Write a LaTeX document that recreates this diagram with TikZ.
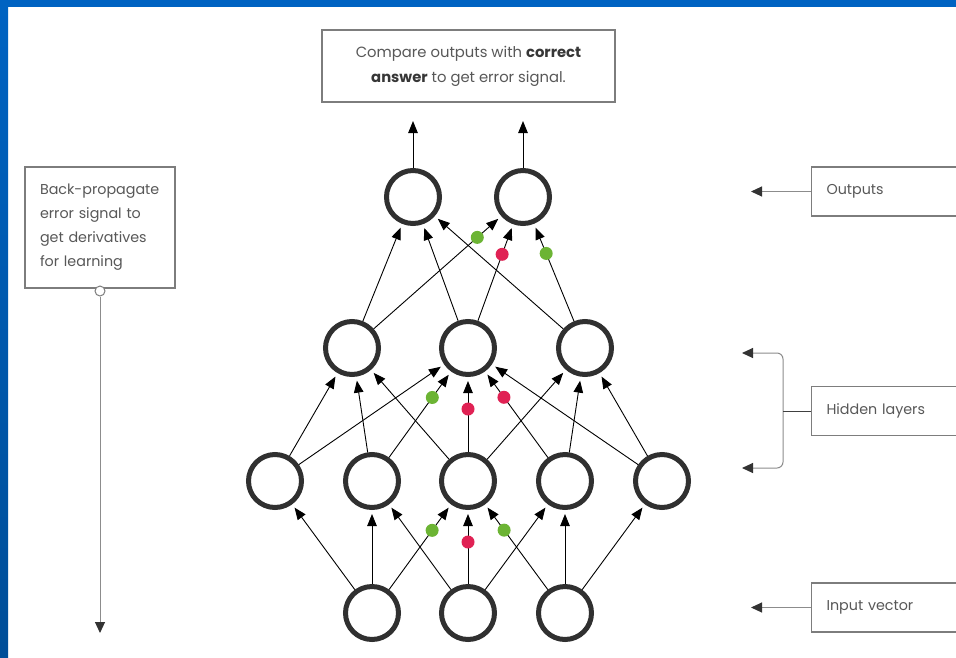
\documentclass[tikz,border=0pt]{standalone}
\usepackage{fontspec}
\setmainfont{Poppins}
\usetikzlibrary{arrows.meta,calc}

\definecolor{frameblue}{RGB}{0,99,194}
\definecolor{framedark}{RGB}{0,78,152}
\definecolor{dotgreen}{RGB}{108,180,52}
\definecolor{dotred}{RGB}{224,34,84}
\definecolor{ringgray}{RGB}{48,48,48}
\definecolor{textgray}{RGB}{88,88,88}
\definecolor{boldgray}{RGB}{55,55,55}
\definecolor{boxgray}{RGB}{125,125,125}
\definecolor{leadgray}{RGB}{140,140,140}

\begin{document}
\begin{tikzpicture}[x=1pt,y=-1pt,
  neuron/.style={circle, draw=ringgray, line width=5pt, minimum size=53pt,
                 inner sep=0pt, fill=white},
  link/.style={draw=black, line width=0.9pt,
               -{Triangle[length=12pt,width=9.5pt]}, shorten >=4pt},
  gdot/.style={fill=dotgreen},
  rdot/.style={fill=dotred},
  labelbox/.style={draw=boxgray, line width=1.1pt, fill=white,
                   text=textgray, inner sep=0pt},
  sidelabel/.style={labelbox, anchor=west, minimum width=170pt,
                    minimum height=49pt, text width=140pt, align=left,
                    font=\fontsize{14.3}{24}\selectfont},
  pointer/.style={draw=leadgray, line width=1pt,
                  -{Triangle[length=11pt,width=10pt,color=black!80]}},
]
\clip (0,0) rectangle (956,657);
\fill[white] (0,0) rectangle (956,657);

% window frame
\fill[frameblue] (0,0) rectangle (956,7);
\shade[top color=frameblue, bottom color=framedark] (0,0) rectangle (8,657);

% neurons
\node[neuron] (O1) at (413,197) {};
\node[neuron] (O2) at (523,197) {};
\node[neuron] (J1) at (352,348) {};
\node[neuron] (J2) at (468,348) {};
\node[neuron] (J3) at (585,348) {};
\node[neuron] (H1) at (275,481) {};
\node[neuron] (H2) at (372,481) {};
\node[neuron] (H3) at (468,481) {};
\node[neuron] (H4) at (565,481) {};
\node[neuron] (H5) at (662,481) {};
\node[neuron] (I1) at (372,613) {};
\node[neuron] (I2) at (468,613) {};
\node[neuron] (I3) at (565,613) {};

% input -> first hidden layer
\foreach \s/\t in {I1/H1,I1/H2,I1/H3,I2/H2,I2/H3,I2/H4,I3/H3,I3/H4,I3/H5}
  \draw[link] (\s) -- (\t);
% first hidden -> second hidden layer
\foreach \s/\t in {H1/J1,H1/J2,H2/J1,H2/J2,H3/J1,H3/J2,H3/J3,H4/J2,H4/J3,H5/J2,H5/J3}
  \draw[link] (\s) -- (\t);
% second hidden -> outputs
\foreach \s/\t in {J1/O1,J1/O2,J2/O1,J2/O2,J3/O1,J3/O2}
  \draw[link] (\s) -- (\t);

% error markers on weights
\foreach \s/\t/\c in {I1/H3/gdot,I2/H3/rdot,I3/H3/gdot,
                      H2/J2/gdot,H3/J2/rdot,H4/J2/rdot,
                      J1/O2/gdot,J2/O2/rdot,J3/O2/gdot}
  \fill[\c] ($(\t)!61pt!(\s)$) circle (6.5pt);

% output arrows to comparison box
\coordinate (up1) at (413,121);
\coordinate (up2) at (523,121);
\draw[draw=black, line width=1pt, -{Triangle[length=12pt,width=9.5pt]}] (O1) -- (up1);
\draw[draw=black, line width=1pt, -{Triangle[length=12pt,width=9.5pt]}] (O2) -- (up2);

% comparison box
\node[labelbox, minimum width=293pt, minimum height=72pt, align=center,
      font=\fontsize{14.8}{25}\selectfont] (cmp) at (468.5,66)
  {Compare outputs with \textbf{\color{boldgray}correct}\\
   \textbf{\color{boldgray}answer} to get error signal.};

% back-propagation note
\node[labelbox, minimum width=150pt, minimum height=121pt, text width=120pt,
      align=left, font=\fontsize{14.3}{24}\selectfont] (bp) at (100,227.5)
  {Back-propagate\\error signal to\\get derivatives\\for learning};
\node[circle, draw=boxgray, fill=white, line width=1pt, minimum size=10pt,
      inner sep=0pt] (bpdot) at (100,291) {};
\coordinate (bpend) at (100,633);
\draw[pointer] (bpdot) -- (bpend);

% layer labels
\node[sidelabel] (outlbl) at (811,191.5) {Outputs};
\node[sidelabel] (hidlbl) at (811,411) {Hidden layers};
\node[sidelabel] (inlbl) at (811,607.5) {Input vector};

\coordinate (outtip) at (751,191.5);
\coordinate (intip) at (751,607.5);
\draw[pointer] (outlbl) -- (outtip);
\draw[pointer] (inlbl) -- (intip);

% bracket for the hidden layers
\coordinate (brtop) at (742,353);
\coordinate (brbot) at (742,468);
\coordinate (brmid) at (783,411);
\draw[draw=leadgray, line width=1pt, rounded corners=6pt,
      {Triangle[length=11pt,width=10pt,color=black!80]}-{Triangle[length=11pt,width=10pt,color=black!80]}]
  (brtop) -- (783,353) -- (783,468) -- (brbot);
\draw[draw=black!75, line width=1pt] (hidlbl.west) -- (brmid);
\end{tikzpicture}
\end{document}
